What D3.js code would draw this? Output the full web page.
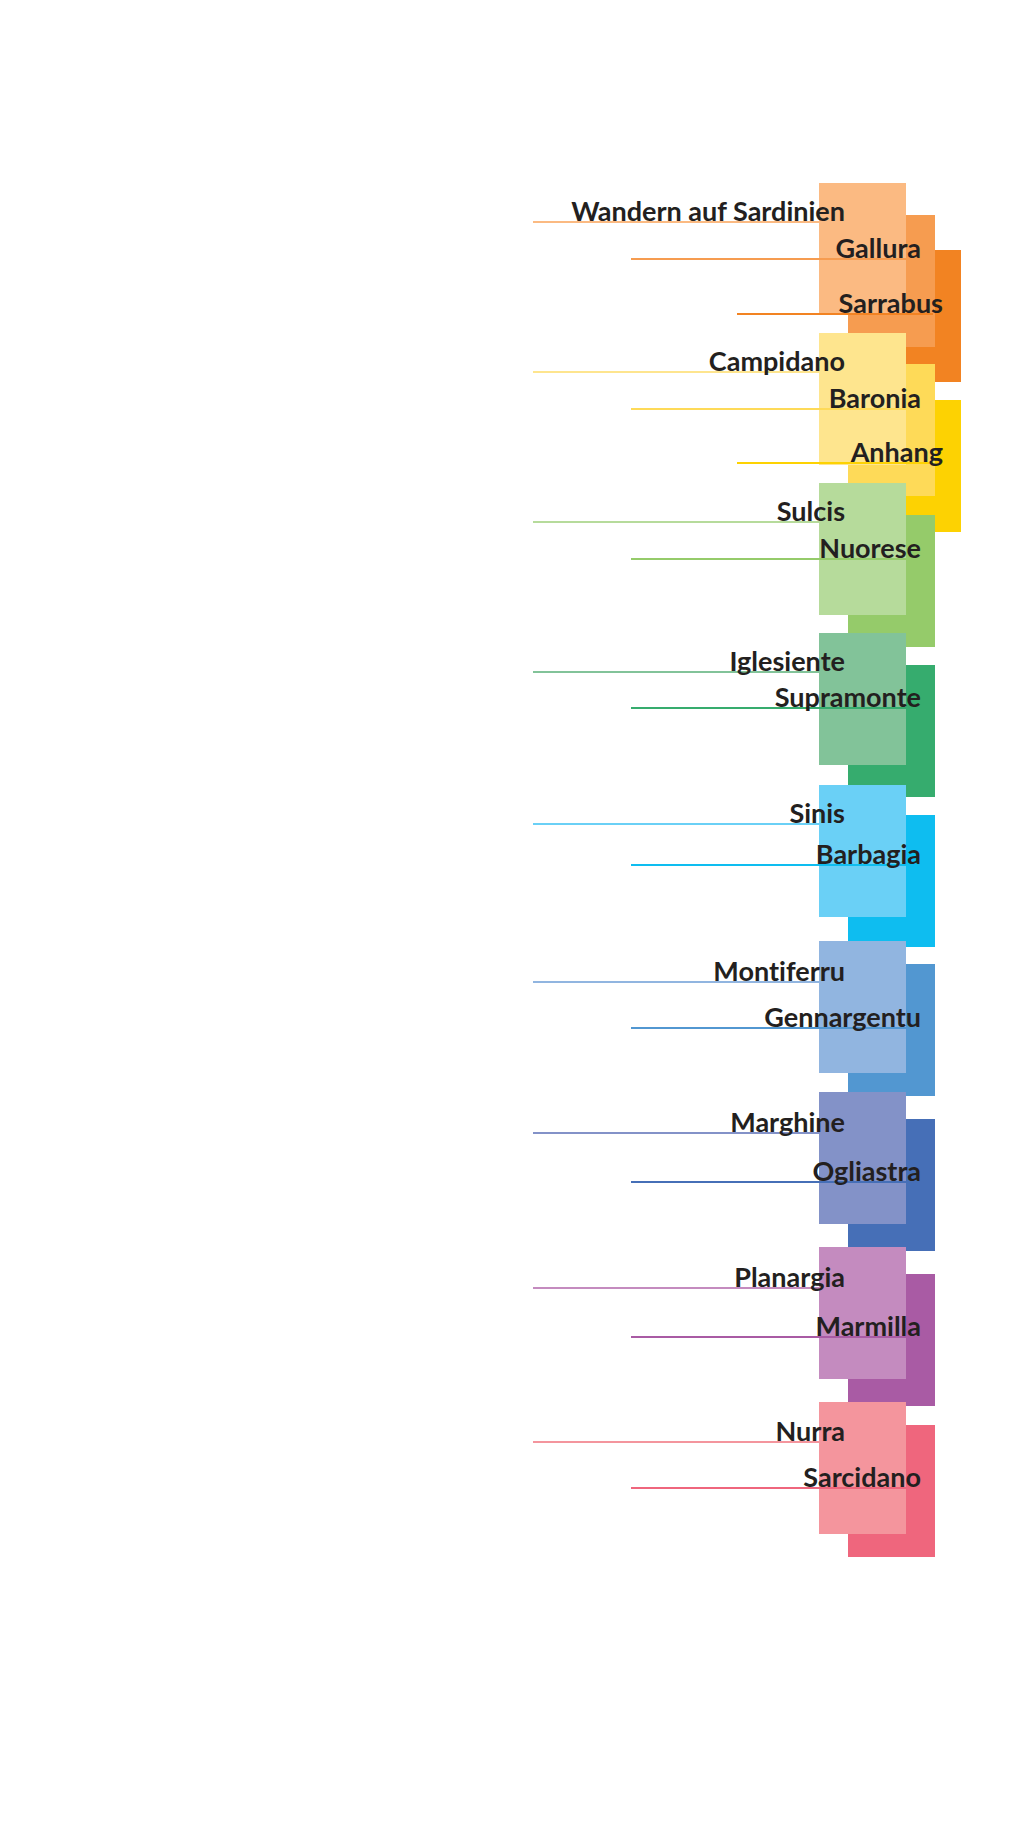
<!DOCTYPE html>
<html>
<head>
<meta charset="utf-8">
<script src="https://cdn.jsdelivr.net/npm/d3@7"></script>
<style>
  html, body { margin: 0; padding: 0; background: #fff; }
  svg { display: block; }
</style>
</head>
<body>
<div id="chart"></div>
<script>
// one entry per colour group, one item per tier (light, medium, dark)
const labels = [
  ["Wandern auf Sardinien", "Gallura", "Sarrabus"],
  ["Campidano", "Baronia", "Anhang"],
  ["Sulcis", "Nuorese"],
  ["Iglesiente", "Supramonte"],
  ["Sinis", "Barbagia"],
  ["Montiferru", "Gennargentu"],
  ["Marghine", "Ogliastra"],
  ["Planargia", "Marmilla"],
  ["Nurra", "Sarcidano"]
];

const colors = [
  ["#fbba82", "#f69c50", "#f28322"],
  ["#fee58e", "#feda58", "#fdd202"],
  ["#b6db9b", "#95cb6a"],
  ["#82c399", "#36ac6e"],
  ["#6ad0f6", "#0ebdf0"],
  ["#91b5e0", "#5297d1"],
  ["#8392c8", "#466fb7"],
  ["#c48bbf", "#a95ba4"],
  ["#f4959d", "#ef667d"]
];

// where each block starts on the page scale
const blockStart = [
  [183, 215, 250],
  [333, 364, 400],
  [483, 515],
  [633, 665],
  [785, 815],
  [941, 964],
  [1092, 1119],
  [1247, 1274],
  [1402, 1425]
];

// where each label line sits on the page scale
const labelValue = [
  [222, 259, 314],
  [372, 409, 463],
  [522, 559],
  [672, 708],
  [824, 865],
  [982, 1028],
  [1133, 1182],
  [1288, 1337],
  [1442, 1488]
];

const blockSpan = 132;

const width = 1020;
const height = 1838;

const svg = d3
  .select("#chart")
  .append("svg")
  .attr("width", width)
  .attr("height", height);

svg.append("rect").attr("width", width).attr("height", height).attr("fill", "#fff");

const y = d3.scaleLinear().domain([0, height]).range([0, height]);

// tier -> horizontal placement
const blockX = d3.scaleOrdinal().domain([0, 1, 2]).range([819, 848, 874]);
const blockW = 87;
const lineStart = d3.scaleOrdinal().domain([0, 1, 2]).range([533, 631, 737]);
const lineEnd = d3.scaleOrdinal().domain([0, 1, 2]).range([819, 906, 933]);
const textEnd = d3.scaleOrdinal().domain([0, 1, 2]).range([845, 921, 943]);

const groups = labels.map((names, g) =>
  names.map((name, t) => ({
    name: name,
    tier: t,
    color: colors[g][t],
    start: blockStart[g][t],
    at: labelValue[g][t]
  }))
);

groups.forEach((items) => {
  const g = svg.append("g");

  // dark at the back, light in front
  g.selectAll("rect.block")
    .data(items.slice().reverse())
    .join("rect")
    .attr("class", "block")
    .attr("x", (d) => blockX(d.tier))
    .attr("y", (d) => y(d.start))
    .attr("width", blockW)
    .attr("height", (d) => y(d.start + blockSpan) - y(d.start))
    .attr("fill", (d) => d.color);

  g.selectAll("line")
    .data(items)
    .join("line")
    .attr("x1", (d) => lineStart(d.tier))
    .attr("x2", (d) => lineEnd(d.tier))
    .attr("y1", (d) => y(d.at))
    .attr("y2", (d) => y(d.at))
    .attr("stroke", (d) => d.color)
    .attr("stroke-width", 2);

  g.selectAll("text")
    .data(items)
    .join("text")
    .attr("x", (d) => textEnd(d.tier))
    .attr("y", (d) => y(d.at) - 1)
    .attr("text-anchor", "end")
    .attr("fill", "#231f20")
    .style("font-family", "Lato, 'Open Sans', sans-serif")
    .style("font-weight", "bold")
    .style("font-size", "27px")
    .style("font-variant-ligatures", "none")
    .text((d) => d.name);
});
</script>
</body>
</html>
